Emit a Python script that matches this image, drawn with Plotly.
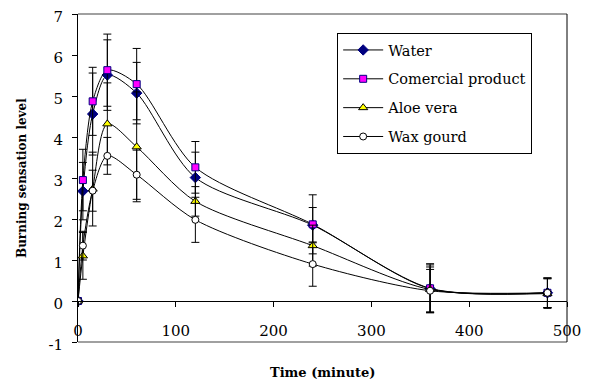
import plotly.graph_objects as go

time_min = [0, 5, 15, 30, 60, 120, 240, 360, 480]
series_names = ["Water", "Comercial product", "Aloe vera", "Wax gourd"]
water = [0, 2.68, 4.56, 5.51, 5.07, 3.01, 1.85, 0.30, 0.20]
water_err = [0, 0.70, 1.00, 0.86, 0.75, 0.62, 0.43, 0.58, 0.36]
commercial = [0, 2.95, 4.87, 5.63, 5.29, 3.26, 1.87, 0.31, 0.20]
commercial_err = [0, 0.75, 0.83, 0.88, 0.87, 0.63, 0.72, 0.60, 0.36]
aloe = [0, 1.10, 2.73, 4.32, 3.76, 2.43, 1.35, 0.28, 0.18]
aloe_err = [0, 0.57, 0.90, 1.00, 1.34, 0.36, 0.50, 0.55, 0.36]
wax = [0, 1.35, 2.69, 3.54, 3.08, 1.98, 0.90, 0.25, 0.20]
wax_err = [0, 0.35, 0.50, 0.45, 0.60, 0.55, 0.54, 0.52, 0.36]

x_ticks = [0, 100, 200, 300, 400, 500]
x_tick_labels = ["0", "100", "200", "300", "400", "500"]
y_ticks = [-1, 0, 1, 2, 3, 4, 5, 6, 7]
y_tick_labels = ["-1", "0", "1", "2", "3", "4", "5", "6", "7"]

styles = [
    dict(symbol="diamond", color="#000080", line=dict(color="#000080", width=1), size=8),
    dict(symbol="square", color="#FF00FF", line=dict(color="#000080", width=1), size=7),
    dict(symbol="triangle-up", color="#FFFF00", line=dict(color="#000000", width=1), size=8),
    dict(symbol="circle", color="#FFFFFF", line=dict(color="#000000", width=1), size=7),
]

fig = go.Figure()
for name, ys, err, st in zip(series_names, [water, commercial, aloe, wax],
                              [water_err, commercial_err, aloe_err, wax_err], styles):
    fig.add_trace(go.Scatter(
        x=time_min, y=ys, name=name, mode="lines+markers",
        line=dict(color="black", width=1, shape="spline", smoothing=0.8),
        marker=st, legendgroup=name,
        error_y=dict(type="data", array=err, visible=True, color="black", thickness=1, width=4),
    ))

serif = "DejaVu Serif, serif"
fig.update_layout(
    width=585, height=375,
    margin=dict(l=70, r=26, t=6, b=41),
    plot_bgcolor="white", paper_bgcolor="white",
    font=dict(family=serif, size=15, color="black"),
    showlegend=True,
    legend=dict(x=0.53, y=0.942, xanchor="left", yanchor="top",
                bordercolor="black", borderwidth=1, bgcolor="white",
                font=dict(family=serif, size=14.5, color="black"), tracegroupgap=7,
                itemwidth=40),
    xaxis=dict(range=[0, 500], tickmode="array", tickvals=x_ticks, ticktext=x_tick_labels,
               anchor="free", position=0.125, automargin=False,
               showline=True, linecolor="black", linewidth=1,
               ticks="outside", ticklen=5, tickcolor="black",
               showgrid=False, zeroline=False, ticklabelstandoff=11,
               ticklabeloverflow="allow",
               tickfont=dict(family=serif, size=15)),
    yaxis=dict(range=[-1, 7], tickmode="array", tickvals=y_ticks, ticktext=y_tick_labels,
               automargin=False,
               showline=True, linecolor="black", linewidth=1,
               ticks="outside", ticklen=5, tickcolor="black",
               showgrid=False, zeroline=False, ticklabelstandoff=6,
               ticklabelshift=3, ticklabeloverflow="allow",
               tickfont=dict(family=serif, size=15)),
    annotations=[
        dict(text="<b>Time (minute)</b>", xref="paper", yref="paper",
             x=0.5, y=-0.0915, xanchor="center", yanchor="middle", showarrow=False,
             font=dict(family=serif, size=13)),
        dict(text="<b>Burning sensation level</b>", xref="paper", yref="paper",
             x=-0.1145, y=0.5, xanchor="center", yanchor="middle", showarrow=False,
             textangle=-90, font=dict(family=serif, size=12)),
    ],
    shapes=[
        dict(type="line", xref="paper", yref="paper", x0=0, x1=1, y0=1, y1=1,
             line=dict(color="#808080", width=1.5)),
        dict(type="line", xref="paper", yref="paper", x0=0, x1=1, y0=0, y1=0,
             line=dict(color="#808080", width=1.5)),
        dict(type="line", xref="paper", yref="paper", x0=1, x1=1, y0=0, y1=1,
             line=dict(color="black", width=1)),
    ],
)
fig.write_html("out.html")
